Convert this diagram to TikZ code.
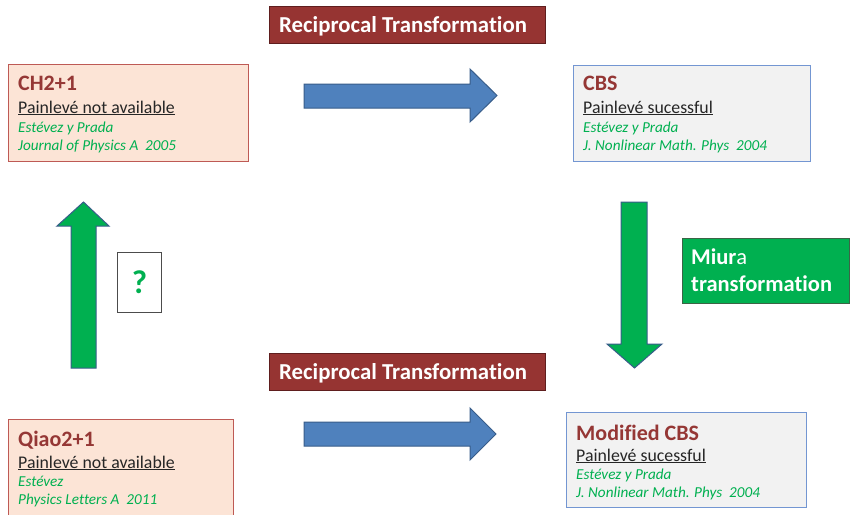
\documentclass[tikz,border=0pt]{standalone}
\usepackage{fontspec}
\setmainfont{Carlito}[Ligatures=NoCommon]
\definecolor{peach}{RGB}{252,228,214}
\definecolor{boxred}{RGB}{190,90,85}
\definecolor{lightgrey}{RGB}{242,242,242}
\definecolor{boxblue}{RGB}{115,150,210}
\definecolor{darkred}{RGB}{149,55,53}
\definecolor{recfill}{RGB}{150,52,50}
\definecolor{recborder}{RGB}{95,30,30}
\definecolor{bluefill}{RGB}{79,129,189}
\definecolor{bluedark}{RGB}{56,93,138}
\definecolor{arrowgreen}{RGB}{0,176,80}
\definecolor{refgreen}{RGB}{0,176,80}
\definecolor{miuraborder}{RGB}{60,100,70}
\begin{document}
\begin{tikzpicture}[x=1pt,y=-1pt,
  peachbox/.style={draw=boxred, fill=peach, line width=1pt, inner sep=0pt, anchor=north west},
  greybox/.style={draw=boxblue, fill=lightgrey, line width=1pt, inner sep=0pt, anchor=north west},
  titletxt/.style={anchor=base west, inner sep=0pt, text=darkred, font=\fontsize{22}{25}\selectfont\bfseries},
  subtxt/.style={anchor=base west, inner sep=0pt, text=black!85, font=\fontsize{17.8}{20}\selectfont},
  reftxt/.style={anchor=base west, inner sep=0pt, text=refgreen, font=\fontsize{15.2}{17}\selectfont\itshape},
  recbox/.style={draw=recborder, fill=recfill, line width=1pt, inner sep=0pt, anchor=north west, minimum width=276pt, minimum height=37pt},
  rectxt/.style={anchor=base west, inner sep=0pt, text=white, font=\fontsize{22.8}{25}\selectfont\bfseries},
  bluearrow/.style={draw=bluedark, fill=bluefill, line width=1pt, line join=miter},
  greenarrow/.style={draw=bluedark, fill=arrowgreen, line width=1pt, line join=miter},
  qbox/.style={draw=black!70, fill=white, line width=0.8pt, inner sep=0pt, anchor=north west, minimum width=44pt, minimum height=60pt},
  miurabox/.style={draw=miuraborder, fill=arrowgreen, line width=1pt, inner sep=0pt, anchor=north west, minimum width=167pt, minimum height=65pt},
  miuratxt/.style={anchor=base west, inner sep=0pt, text=white, font=\fontsize{22.5}{25}\selectfont\bfseries},
]
\clip (0,0) rectangle (850,514);
\fill[white] (0,0) rectangle (850,514);

% Reciprocal transformation labels
\node[recbox] (rec1) at (269,6) {};
\node[rectxt] (rec1t) at (279,32) {Reciprocal Transformation};
\node[recbox] (rec2) at (269,353) {};
\node[rectxt] (rec2t) at (279,379) {Reciprocal Transformation};

% CH2+1
\node[peachbox, minimum width=240pt, minimum height=97pt] (ch) at (8,64) {};
\node[titletxt] (chT) at (18,90) {CH2+1};
\node[subtxt] (chP) at (18,113) {\underline{Painlevé not available}};
\node[reftxt] (chA) at (18,132) {Estévez y Prada};
\node[reftxt] (chJ) at (18,150) {Journal of Physics A\ \ 2005};

% CBS
\node[greybox, minimum width=237pt, minimum height=96pt] (cbs) at (573,65) {};
\node[titletxt] (cbsT) at (583,90) {CBS};
\node[subtxt] (cbsP) at (583,113) {\underline{Painlevé sucessful}};
\node[reftxt] (cbsA) at (583,132) {Estévez y Prada};
\node[reftxt] (cbsJ) at (583,150) {J. Nonlinear Math. Phys\ \ 2004};

% Qiao2+1
\node[peachbox, minimum width=225pt, minimum height=100pt] (qiao) at (8,419) {};
\node[titletxt] (qiaoT) at (18,446) {Qiao2+1};
\node[subtxt] (qiaoP) at (18,468) {\underline{Painlevé not available}};
\node[reftxt] (qiaoA) at (18,486) {Estévez};
\node[reftxt] (qiaoJ) at (18,504) {Physics Letters A\ \ 2011};

% Modified CBS
\node[greybox, minimum width=240pt, minimum height=95pt] (mcbs) at (566,412) {};
\node[titletxt] (mcbsT) at (576,440) {Modified CBS};
\node[subtxt] (mcbsP) at (576,461) {\underline{Painlevé sucessful}};
\node[reftxt] (mcbsA) at (576,479) {Estévez y Prada};
\node[reftxt] (mcbsJ) at (576,497) {J. Nonlinear Math. Phys\ \ 2004};

% blue arrows
\draw[bluearrow] (304,84) -- (470,84) -- (470,69) -- (497,95.5) -- (470,122) -- (470,108) -- (304,108) -- cycle;
\draw[bluearrow] (304,422) -- (470,422) -- (470,408) -- (496,434) -- (470,460) -- (470,446) -- (304,446) -- cycle;

% green arrows
\draw[greenarrow] (621,202) -- (647,202) -- (647,344) -- (662,344) -- (634.5,368) -- (607,344) -- (621,344) -- cycle;
\draw[greenarrow] (71,368) -- (96,368) -- (96,226) -- (109,226) -- (83.5,202) -- (57,226) -- (71,226) -- cycle;

% question box
\node[qbox] (q) at (117,252) {};
\node[text=refgreen, font=\fontsize{33}{36}\selectfont\bfseries] (qt) at (q.center) {?};

% Miura box
\node[miurabox] (miura) at (682,238) {};
\node[miuratxt] (miuraA) at (691,264) {Miur{\mdseries a}};
\node[miuratxt] (miuraB) at (691,291) {transformation};
\end{tikzpicture}
\end{document}
